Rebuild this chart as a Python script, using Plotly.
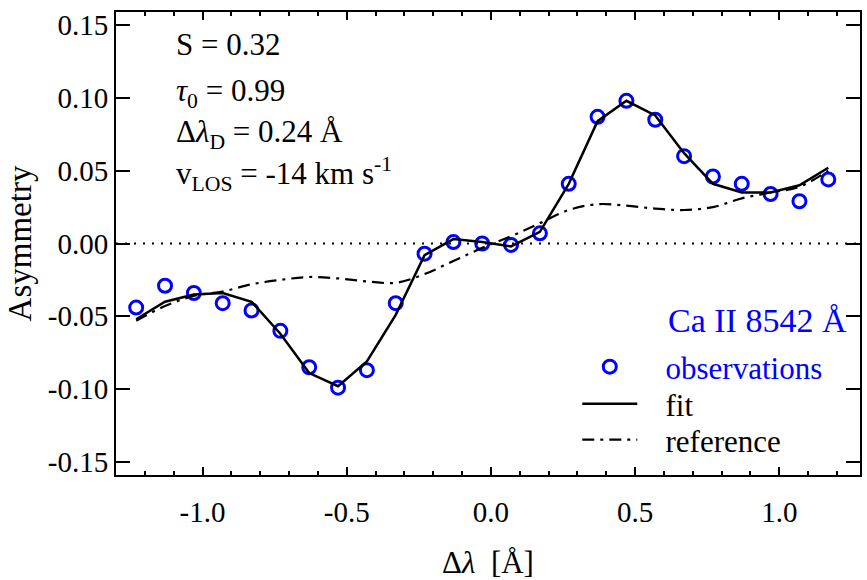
import plotly.graph_objects as go

# ---- data ----
dlam = [-1.23, -1.13, -1.03, -0.93, -0.83, -0.73, -0.63, -0.53, -0.43, -0.33,
        -0.23, -0.13, -0.03, 0.07, 0.17, 0.27, 0.37, 0.47, 0.57, 0.67,
        0.77, 0.87, 0.97, 1.07, 1.17]
obs = [-0.044, -0.029, -0.034, -0.041, -0.046, -0.060, -0.085, -0.099, -0.087, -0.041,
       -0.007, 0.001, 0.000, -0.001, 0.007, 0.041, 0.087, 0.098, 0.085, 0.060,
       0.046, 0.041, 0.034, 0.029, 0.044]
fit = [-0.052, -0.040, -0.035, -0.034, -0.040, -0.062, -0.089, -0.098, -0.081, -0.049,
       -0.008, 0.003, 0.001, -0.002, 0.008, 0.041, 0.084, 0.098, 0.088, 0.062,
       0.041, 0.035, 0.035, 0.040, 0.052]
ref = [-0.053, -0.043, -0.036, -0.033, -0.028, -0.025, -0.023, -0.024, -0.026, -0.027,
       -0.021, -0.012, -0.003, 0.005, 0.014, 0.023, 0.027, 0.026, 0.024, 0.023,
       0.025, 0.031, 0.035, 0.039, 0.050]

xtick_vals = [-1.0, -0.5, 0.0, 0.5, 1.0]
xtick_text = ["-1.0", "-0.5", "0.0", "0.5", "1.0"]
ytick_vals = [-0.15, -0.10, -0.05, 0.00, 0.05, 0.10, 0.15]
ytick_text = ["-0.15", "-0.10", "-0.05", "0.00", "0.05", "0.10", "0.15"]

params = ["S = 0.32",
          "<i>τ</i><sub>0</sub> = 0.99",
          "Δ<i>λ</i><sub>D</sub> = 0.24 Å",
          "v<sub>LOS</sub> = -14 km s<sup>-1</sup>"]
param_y = [0.1364, 0.1035, 0.0755, 0.0475]

FONT = "Liberation Serif, Times New Roman, serif"
BLUE = "#0000FF"
GAP = "\u00a0\u00a0\u00a0"

fig = go.Figure()
fig.add_trace(go.Scatter(
    x=dlam, y=obs, mode="markers", name=f"{GAP}<span style='color:{BLUE}'>observations</span>",
    legend="legend",
    marker=dict(symbol="circle-open", size=13, color=BLUE, line=dict(width=3, color=BLUE)),
))
fig.add_trace(go.Scatter(
    x=dlam, y=fit, mode="lines", name=f"{GAP}fit", legend="legend2",
    line=dict(color="black", width=2.5),
))
fig.add_trace(go.Scatter(
    x=dlam, y=ref, mode="lines", name=f"{GAP}reference", line_shape="spline",
    legend="legend3",
    line=dict(color="black", width=2.2, dash="12px,6px,3px,6px"),
))

fig.add_hline(y=0, line=dict(color="black", width=2.2, dash="2px,7px"), layer="below")

for txt, yy in zip(params, param_y):
    fig.add_annotation(x=-1.10, y=yy, xref="x", yref="y", text=txt, showarrow=False,
                       xanchor="left", yanchor="middle",
                       font=dict(family=FONT, size=31, color="black"))

fig.add_annotation(x=0.607, y=-0.053, xref="x", yref="y", text="Ca II 8542 Å",
                   showarrow=False, xanchor="left", yanchor="middle",
                   font=dict(family=FONT, size=34, color=BLUE))

axis_common = dict(
    showline=True, linecolor="black", linewidth=2, mirror="allticks",
    ticks="inside", tickcolor="black", tickwidth=2,
    showgrid=False, zeroline=False, automargin=False,
    tickfont=dict(family=FONT, size=29, color="black"),
)

leg_common = dict(xanchor="left", yanchor="middle", x=0.62,
                  bgcolor="rgba(0,0,0,0)", itemwidth=55,
                  font=dict(family=FONT, size=31, color="black"))

fig.update_layout(
    width=867, height=580,
    margin=dict(l=116, r=7, t=12, b=105, autoexpand=False),
    paper_bgcolor="white", plot_bgcolor="white",
    font=dict(family=FONT, size=31, color="black"),
    showlegend=True,
    legend=dict(y=0.2333, **leg_common),
    legend2=dict(y=0.1533, **leg_common),
    legend3=dict(y=0.0756, **leg_common),
    xaxis=dict(range=[-1.30, 1.28], tickvals=xtick_vals, ticktext=xtick_text, ticklen=8,
               ticklabelstandoff=10,
               minor=dict(dtick=0.1, tick0=0, ticklen=4, ticks="inside", tickcolor="black", tickwidth=2),
               title=dict(text="Δ<i>λ</i>  [Å]", font=dict(family=FONT, size=31), standoff=32),
               **axis_common),
    yaxis=dict(range=[-0.159, 0.159], tickvals=ytick_vals, ticktext=ytick_text, ticklen=14,
               title=dict(text="Asymmetry", font=dict(family=FONT, size=33), standoff=6),
               **axis_common),
)

fig.write_html("out.html")
